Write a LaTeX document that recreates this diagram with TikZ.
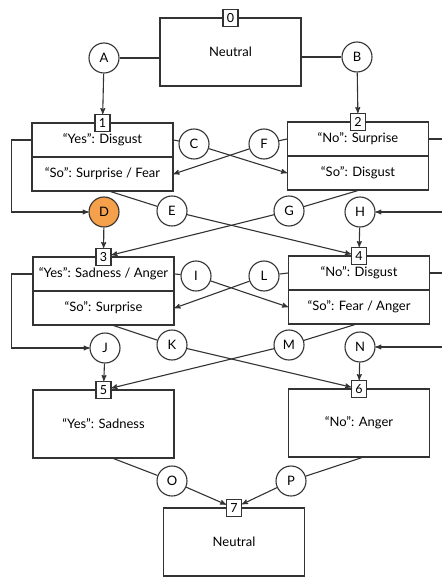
\documentclass[tikz,border=0pt]{standalone}
\usepackage{fontspec}
\setmainfont{Lato}
\usepackage{tikz}
\usetikzlibrary{arrows,positioning}
\definecolor{ink}{HTML}{333333}
\definecolor{pick}{HTML}{F5A04A}

\begin{document}
\begin{tikzpicture}[x=1pt,y=-1pt,>=stealth',font=\fontsize{13}{15}\selectfont]
\tikzstyle{state}=[rectangle,draw=ink,line width=1.1pt,minimum width=141pt,minimum height=68pt,inner sep=0pt]
\tikzstyle{half}=[rectangle,draw=ink,line width=1.1pt,minimum width=141pt,minimum height=34pt,inner sep=0pt]
\tikzstyle{tag}=[rectangle,draw=ink,fill=white,line width=1.1pt,minimum width=15pt,minimum height=17pt,inner sep=1pt,font=\fontsize{12.5}{14}\selectfont]
\tikzstyle{choice}=[circle,draw=ink,fill=white,line width=1.1pt,minimum size=30pt,inner sep=0pt]
\tikzstyle{link}=[draw=ink,line width=1.1pt]
\useasboundingbox (0,0) rectangle (441,577);

% states
\node [state] (b0) at(230.5,52) {Neutral};
\node [half] (y1) at(102.5,140) {“Yes”: Disgust};
\node [half] (s1) at(102.5,174) {“So”: Surprise / Fear};
\node [half] (y2) at(358,139) {“No”: Surprise};
\node [half] (s2) at(358,173) {“So”: Disgust};
\node [half] (y3) at(103.5,274) {“Yes”: Sadness / Anger};
\node [half] (s3) at(103.5,308) {“So”: Surprise};
\node [half] (y4) at(359,273) {“No”: Disgust};
\node [half] (s4) at(359,307) {“So”: Fear / Anger};
\node [state] (b5) at(103.5,424) {“Yes”: Sadness};
\node [state] (b6) at(359,423) {“No”: Anger};
\node [state] (b7) at(234,542) {Neutral};

% state numbers
\node [tag] (l0) at(230.5,18) {0};
\node [tag] (l1) at(102.5,123) {1};
\node [tag] (l2) at(358,122) {2};
\node [tag] (l3) at(103.5,257) {3};
\node [tag] (l4) at(359,256) {4};
\node [tag] (l5) at(103.5,390) {5};
\node [tag] (l6) at(359,389) {6};
\node [tag] (l7) at(234,508) {7};

% choices
\node [choice] (A) at(104,58) {A};
\node [choice] (B) at(357,57) {B};
\node [choice] (C) at(194,144) {C};
\node [choice] (F) at(264,144) {F};
\node [choice,fill=pick] (D) at(104,212) {D};
\node [choice] (E) at(172,211) {E};
\node [choice] (G) at(289,211) {G};
\node [choice] (H) at(360,212) {H};
\node [choice] (I) at(196,276) {I};
\node [choice] (L) at(264,276) {L};
\node [choice] (J) at(105,348) {J};
\node [choice] (K) at(172,345) {K};
\node [choice] (M) at(289,345) {M};
\node [choice] (N) at(360,347) {N};
\node [choice] (O) at(172,481) {O};
\node [choice] (P) at(291,481) {P};

\path [link] (A) -- (A -| b0.west);
\path [link] (B) -- (B -| b0.east);
\path [link,->] (A) -- (l1);
\path [link,->] (B) -- (l2);

\path [link] (y1.east) -- (C);
\path [link,->] (C) -- (s2.west);
\path [link] (y2.west) -- (F);
\path [link,->] (F) -- (s1.east);
\path [link,->] (y1.west) -- ++(-20,0) |- (D);
\path [link,->] (y2.east) -- ++(20,0) |- (H);
\path [link] ([xshift=8pt]s1.south) -- (E);
\path [link,->] (E) -- (l4);
\path [link] (s2.south) -- (G);
\path [link,->] (G) -- (l3);
\path [link,->] (D) -- (l3);
\path [link,->] (H) -- (l4);

\path [link] (y3.east) -- (I);
\path [link,->] (I) -- (s4.west);
\path [link] (y4.west) -- (L);
\path [link,->] (L) -- (s3.east);
\path [link,->] (y3.west) -- ++(-21,0) |- (J);
\path [link,->] (y4.east) -- ++(20,0) |- (N);
\path [link] ([xshift=10pt]s3.south) -- (K);
\path [link,->] (K) -- (l6);
\path [link] ([xshift=-4pt]s4.south) -- (M);
\path [link,->] (M) -- (l5);
\path [link,->] (J) -- (l5);
\path [link,->] (N) -- (l6);

\path [link] ([xshift=10pt]b5.south) -- (O);
\path [link,->] (O) -- (l7);
\path [link] ([xshift=3pt]b6.south) -- (P);
\path [link,->] (P) -- (l7);
\end{tikzpicture}
\end{document}
